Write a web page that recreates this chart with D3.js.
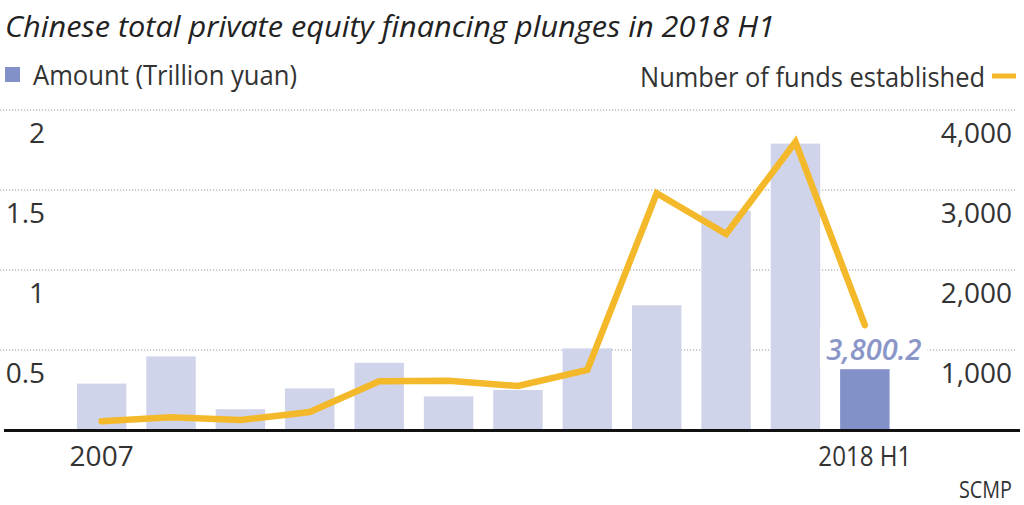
<!DOCTYPE html>
<html>
<head>
<meta charset="utf-8">
<script src="https://cdn.jsdelivr.net/npm/d3@7"></script>
<style>
  body { margin: 0; background: #fff; }
  text { font-family: "Open Sans", sans-serif; fill: #333; }
</style>
</head>
<body>
<svg id="chart" width="1024" height="505"></svg>
<script>
// data
const years = ["2007", "2008", "2009", "2010", "2011", "2012", "2013", "2014", "2015", "2016", "2017", "2018 H1"];
const amount = [0.29, 0.46, 0.13, 0.26, 0.42, 0.21, 0.25, 0.51, 0.78, 1.37, 1.79, 0.38002];
const funds = [110, 160, 125, 225, 610, 615, 550, 750, 2960, 2450, 3600, 1310];
const leftTicks = [0.5, 1, 1.5, 2];
const rightTicks = [1000, 2000, 3000, 4000];
const shownYears = ["2007", "2018 H1"];

const barColor = "#d0d4ea";
const lastColor = "#8292c9";
const lineColor = "#f4b92a";

const svg = d3.select("#chart");

const x = d3.scaleBand().domain(years).range([57, 909.5]).padding(0.287);
const yL = d3.scaleLinear().domain([0, 2]).range([430, 110]);
const yR = d3.scaleLinear().domain([0, 4000]).range([430, 110]);

// squeeze a text to a given width (condensed look)
function fit(sel, w) {
    sel.attr("textLength", w).attr("lengthAdjust", "spacingAndGlyphs");
}

// title
svg.append("text")
    .attr("x", 5).attr("y", 37)
    .style("font-size", "30px").style("font-style", "italic")
    .style("fill", "#222")
    .text("Chinese total private equity financing plunges in 2018 H1")
    .call(fit, 770);

// legend
svg.append("rect").attr("x", 5).attr("y", 67).attr("width", 15).attr("height", 15).attr("fill", lastColor);
svg.append("text").attr("x", 33).attr("y", 85)
    .style("font-size", "28px")
    .text("Amount (Trillion yuan)")
    .call(fit, 264);
svg.append("text").attr("x", 640).attr("y", 87)
    .style("font-size", "28px")
    .text("Number of funds established")
    .call(fit, 345);
svg.append("line").attr("x1", 992).attr("x2", 1016).attr("y1", 76).attr("y2", 76)
    .attr("stroke", lineColor).attr("stroke-width", 5);

// gridlines
svg.append("g")
    .selectAll("line")
    .data(leftTicks)
    .join("line")
    .attr("x1", 0).attr("x2", 1016)
    .attr("y1", d => yL(d)).attr("y2", d => yL(d))
    .attr("stroke", "#9a9a9a").attr("stroke-width", 1)
    .attr("stroke-dasharray", "1.2,1.8");

// left tick labels, below their gridline
svg.append("g")
    .selectAll("text")
    .data(leftTicks)
    .join("text")
    .attr("x", 45).attr("y", d => yL(d) + 33)
    .attr("text-anchor", "end")
    .style("font-size", "28px")
    .text(d => d);

// right tick labels
svg.append("g")
    .selectAll("text")
    .data(rightTicks)
    .join("text")
    .attr("x", 1012).attr("y", d => yR(d) + 33)
    .attr("text-anchor", "end")
    .style("font-size", "28px")
    .text(d => d3.format(",")(d));

// bars
svg.append("g")
    .selectAll("rect")
    .data(years)
    .join("rect")
    .attr("x", d => x(d))
    .attr("width", x.bandwidth())
    .attr("y", (d, i) => yL(amount[i]))
    .attr("height", (d, i) => yL(0) - yL(amount[i]))
    .attr("fill", (d, i) => i === years.length - 1 ? lastColor : barColor);

// baseline
svg.append("line").attr("x1", 4).attr("x2", 1020).attr("y1", 430.5).attr("y2", 430.5)
    .attr("stroke", "#111").attr("stroke-width", 3);

// line for number of funds
const line = d3.line()
    .x((d, i) => x(years[i]) + x.bandwidth() / 2)
    .y(d => yR(d));

svg.append("path")
    .datum(funds)
    .attr("d", line)
    .attr("fill", "none")
    .attr("stroke", lineColor)
    .attr("stroke-width", 6.5)
    .attr("stroke-linejoin", "miter")
    .attr("stroke-linecap", "round");

// value label for the last bar
const last = years[years.length - 1];
const lbl = svg.append("g");
const lblText = lbl.append("text")
    .attr("x", x(last) + x.bandwidth() / 2 + 9)
    .attr("y", 360)
    .attr("text-anchor", "middle")
    .style("font-size", "29px").style("font-style", "italic").style("font-weight", 600)
    .style("fill", "#8a96c8")
    .text(d3.format(",.1f")(amount[amount.length - 1] * 10000));
const bb = lblText.node().getBBox();
lbl.insert("rect", "text")
    .attr("x", bb.x - 6).attr("y", bb.y)
    .attr("width", bb.width + 12).attr("height", bb.height)
    .attr("fill", "#fff");

// x labels
svg.append("g")
    .selectAll("text")
    .data(shownYears)
    .join("text")
    .attr("x", d => x(d) + x.bandwidth() / 2)
    .attr("y", 466)
    .attr("text-anchor", "middle")
    .style("font-size", "28px")
    .text(d => d)
    .each(function (d) { if (d.length > 4) fit(d3.select(this), 93); });

// source
svg.append("text").attr("x", 1012).attr("y", 498)
    .attr("text-anchor", "end")
    .style("font-size", "24px")
    .text("SCMP")
    .call(fit, 53);
</script>
</body>
</html>
